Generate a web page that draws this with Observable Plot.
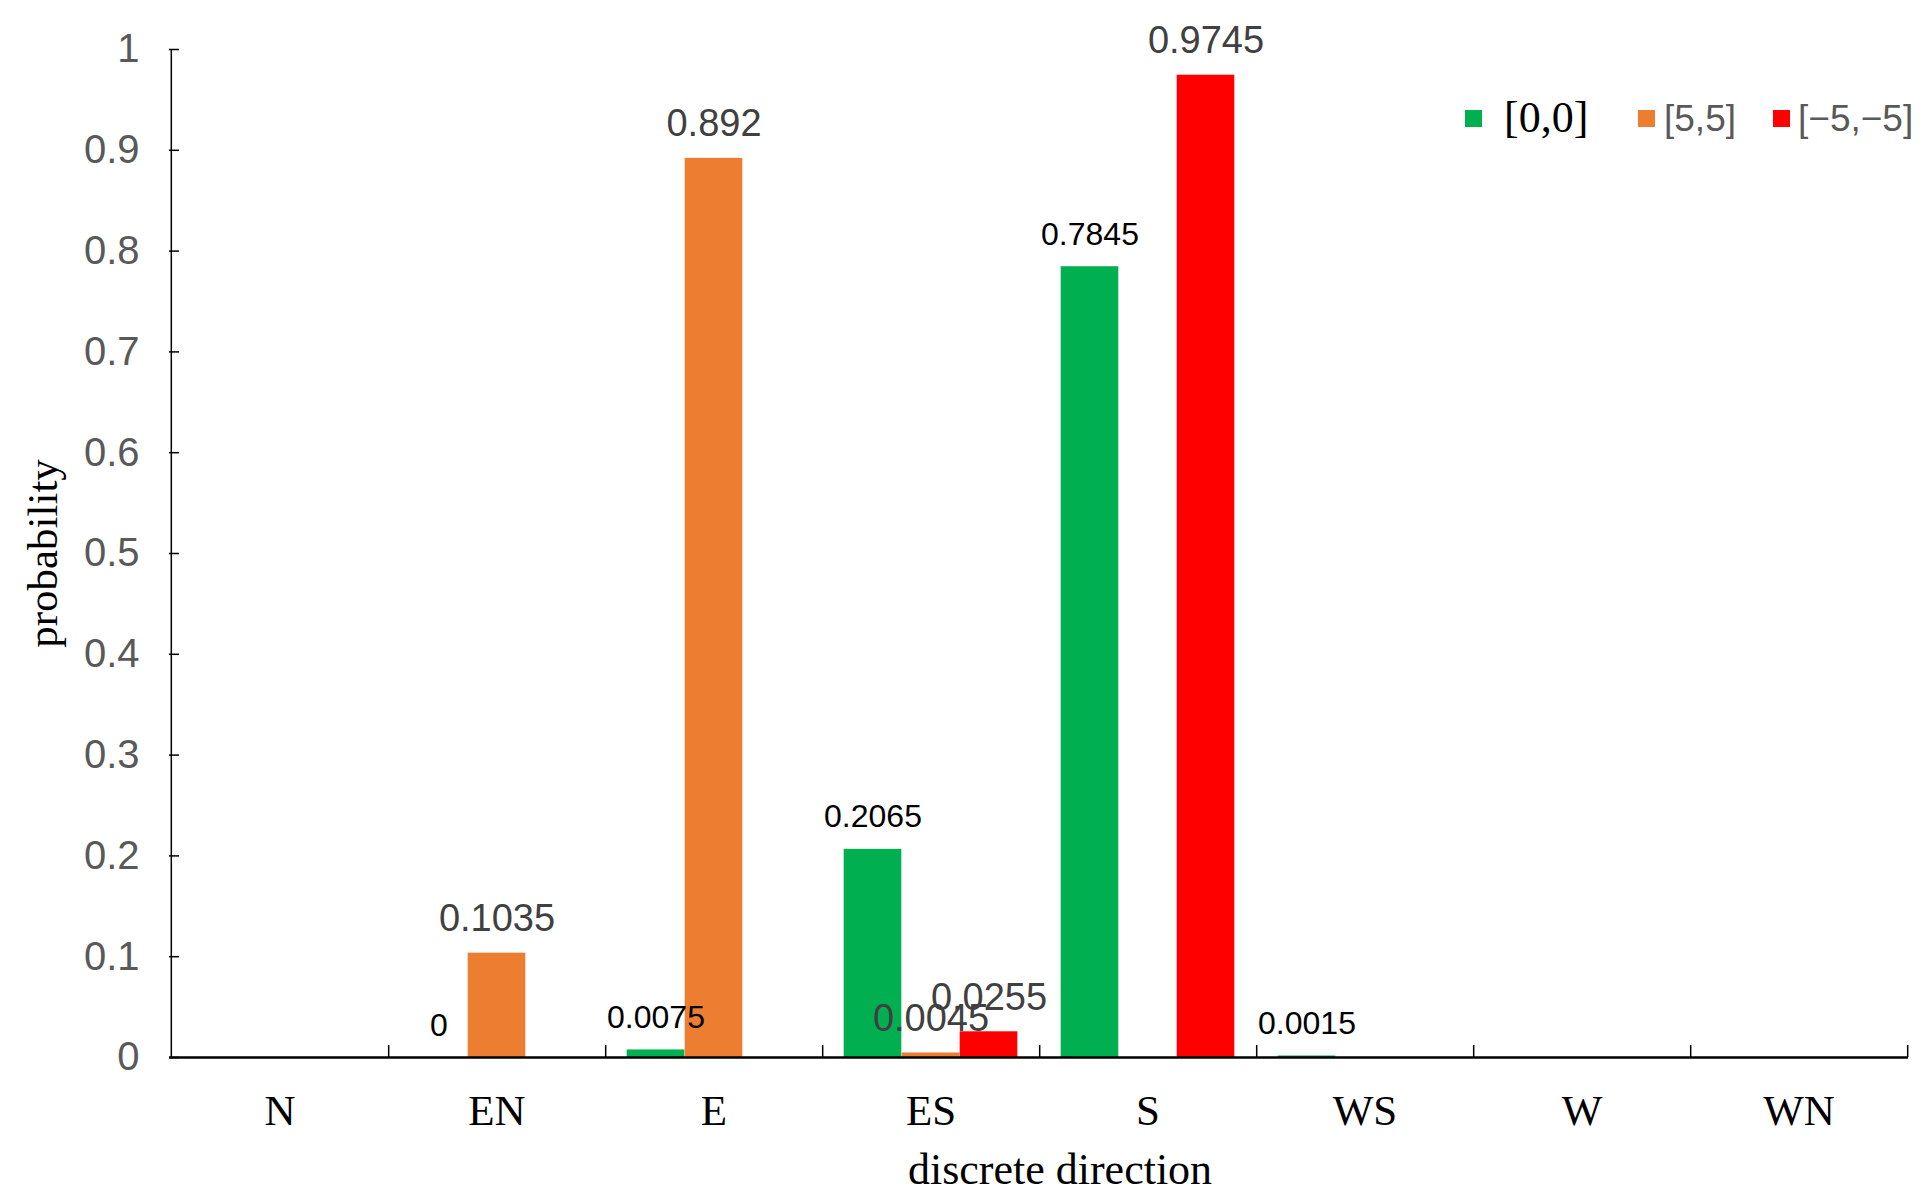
<!DOCTYPE html>
<html>
<head>
<meta charset="utf-8">
<script src="https://cdn.jsdelivr.net/npm/d3@7"></script>
<script src="https://cdn.jsdelivr.net/npm/@observablehq/plot@0.6"></script>
<style>
  html, body { margin: 0; padding: 0; background: #fff; }
  #wrap { position: relative; width: 1930px; height: 1202px; }
  .legend { position: absolute; top: 0; left: 0; width: 1930px; height: 200px; pointer-events: none; }
  .sw { position: absolute; width: 17px; height: 17px; top: 110px; }
  .lt { position: absolute; top: 118px; transform: translateY(-50%); white-space: nowrap; line-height: 1; }
</style>
</head>
<body>
<div id="wrap"></div>
<script>
const categories = ["N", "EN", "E", "ES", "S", "WS", "W", "WN"];
const seriesNames = ["[0,0]", "[5,5]", "[\u22125,\u22125]"];
const seriesColors = ["#00B050", "#ED7D31", "#FF0000"];
const valuesGreen  = [null, 0, 0.0075, 0.2065, 0.7845, 0.0015, null, null];
const valuesOrange = [null, 0.1035, 0.892, 0.0045, null, null, null, null];
const valuesRed    = [null, null, null, 0.0255, 0.9745, null, null, null];
const yTicks = [0, 0.1, 0.2, 0.3, 0.4, 0.5, 0.6, 0.7, 0.8, 0.9, 1];
const yTickLabels = ["0", "0.1", "0.2", "0.3", "0.4", "0.5", "0.6", "0.7", "0.8", "0.9", "1"];
const xLabel = "discrete direction";
const yLabel = "probability";

const seriesValues = [valuesGreen, valuesOrange, valuesRed];
const rows = [];
seriesValues.forEach((vals, s) => {
  vals.forEach((v, i) => {
    if (v !== null) rows.push({category: categories[i], series: seriesNames[s], s, value: v});
  });
});

const W = 1930, H = 1202;
const mL = 169, mR = 22, mT = 49, mB = 145;
const plotW = W - mL - mR;
const plotH = H - mT - mB;
const bw = plotW / categories.length;
const barW = 58;
const inset = (bw - barW) / 2;
const offsets = [-barW, 0, barW];
const labelStyle = [
  {fontSize: 32, fill: "#000000"},
  {fontSize: 38, fill: "#404040"},
  {fontSize: 38, fill: "#404040"}
];

const marks = [];
seriesNames.forEach((name, s) => {
  const data = rows.filter(d => d.s === s);
  marks.push(Plot.barY(data, {
    x: "category", y: "value", fill: seriesColors[s],
    insetLeft: inset, insetRight: inset, dx: offsets[s]
  }));
});
seriesNames.forEach((name, s) => {
  const data = rows.filter(d => d.s === s);
  marks.push(Plot.text(data, {
    x: "category", y: "value", text: d => String(d.value),
    dx: offsets[s], dy: -22, lineAnchor: "bottom",
    fontSize: labelStyle[s].fontSize, fill: labelStyle[s].fill,
    fontFamily: "Liberation Sans, Arial, sans-serif"
  }));
});

// axes
marks.push(Plot.axisY({
  ticks: yTicks,
  tickFormat: d => { const i = yTicks.indexOf(d); return i >= 0 ? yTickLabels[i] : String(d); },
  tickSize: 0, tickPadding: 30, fontSize: 40, color: "#595959",
  fontFamily: "Liberation Sans, Arial, sans-serif", label: null
}));
marks.push(Plot.ruleY(yTicks, {y: d => d, insetRight: plotW - 10, stroke: "#000", strokeWidth: 1.5}));
marks.push(Plot.axisX({
  tickSize: 0, tickPadding: 37, fontSize: 43, color: "#000",
  fontFamily: "Liberation Serif, 'Times New Roman', serif", label: null
}));
marks.push(Plot.ruleX(categories, {x: d => d, dx: bw / 2, insetTop: plotH - 12, stroke: "#000", strokeWidth: 1.5}));
marks.push(Plot.ruleX([categories[0]], {x: d => d, dx: -bw / 2, y1: 0, y2: 1, stroke: "#000", strokeWidth: 1.5}));
marks.push(Plot.ruleY([0], {stroke: "#000", strokeWidth: 2.5}));

// axis titles
marks.push(Plot.text([xLabel], {
  frameAnchor: "bottom", dx: 21, dy: 112, text: d => d,
  textAnchor: "middle", lineAnchor: "middle",
  fontSize: 44, fill: "#000", fontFamily: "Liberation Serif, 'Times New Roman', serif"
}));
marks.push(Plot.text([yLabel], {
  frameAnchor: "left", dx: -126, dy: 0, rotate: -90, text: d => d,
  textAnchor: "middle", lineAnchor: "middle",
  fontSize: 43, fill: "#000", fontFamily: "Liberation Serif, 'Times New Roman', serif"
}));

const chart = Plot.plot({
  width: W, height: H,
  marginLeft: mL, marginRight: mR, marginTop: mT, marginBottom: mB,
  style: {background: "#fff", fontFamily: "Liberation Sans, Arial, sans-serif", overflow: "visible"},
  x: {domain: categories, padding: 0, axis: null},
  y: {domain: [0, 1], axis: null},
  marks
});

const wrap = document.getElementById("wrap");
wrap.appendChild(chart);

// legend
const legend = document.createElement("div");
legend.className = "legend";
const legendItems = [
  {sx: 1465, tx: 1504, font: "Liberation Serif, 'Times New Roman', serif", size: 44, color: "#000"},
  {sx: 1638, tx: 1664, font: "Liberation Sans, Arial, sans-serif", size: 37, color: "#595959"},
  {sx: 1773, tx: 1798, font: "Liberation Sans, Arial, sans-serif", size: 37, color: "#595959"}
];
seriesNames.forEach((name, s) => {
  const it = legendItems[s];
  const sw = document.createElement("div");
  sw.className = "sw";
  sw.style.left = it.sx + "px";
  sw.style.background = seriesColors[s];
  legend.appendChild(sw);
  const t = document.createElement("div");
  t.className = "lt";
  t.style.left = it.tx + "px";
  t.style.fontFamily = it.font;
  t.style.fontSize = it.size + "px";
  t.style.color = it.color;
  t.textContent = name;
  legend.appendChild(t);
});
wrap.appendChild(legend);
</script>
</body>
</html>
